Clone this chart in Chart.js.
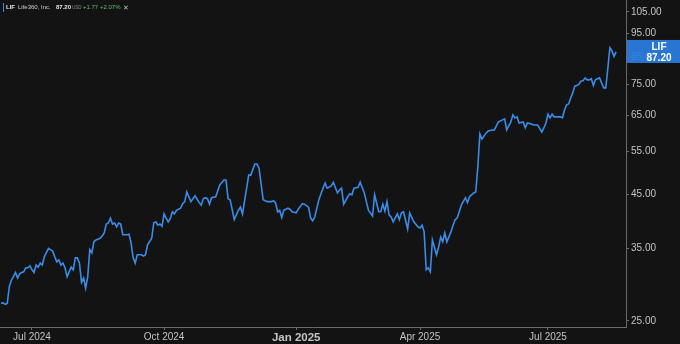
<!DOCTYPE html>
<html>
<head>
<meta charset="utf-8">
<script src="https://cdn.jsdelivr.net/npm/chart.js@4.4.1/dist/chart.umd.min.js"></script>
<style>
  html, body { margin: 0; padding: 0; background: #131313; }
  #wrap { position: relative; width: 680px; height: 344px; }
  #header { position: absolute; left: 0; top: 2px; height: 11px; font-family: "Liberation Sans", Arial, sans-serif; font-size: 6px; line-height: 11px; white-space: nowrap; }
  #header span { position: absolute; top: 0; }
  #header .bar { left: 3px; top: 1px; width: 1px; height: 9px; background: #3a8ce8; }
</style>
</head>
<body>
<div id="wrap">
  <canvas id="chart" width="680" height="344"></canvas>
  <div id="header">
    <span class="bar"></span>
    <span style="left:6px;color:#e6e6e6;font-weight:bold">LIF</span>
    <span style="left:18px;color:#d0d0d0">Life360, Inc.</span>
    <span style="left:56px;color:#e6e6e6;font-weight:bold">87.20</span>
    <span style="left:72px;color:#8a8a8a;font-size:4.5px">USD</span>
    <span style="left:83px;color:#5fbf6a">+1.77</span>
    <span style="left:100px;color:#5fbf6a">+2.07%</span>
    <span style="left:123px;color:#bdbdbd;font-size:7px">✕</span>
  </div>
</div>
<script>
// sessions counted from Jul 1 2024 (trading days)
const sessions = [
  -15, -14, -13, -12, -11, -10, -9, -8, -7, -6, -5, -4, -3, -2, -1, 0, 1, 2, 3, 4, 5, 6, 8, 10, 11, 12, 13, 14, 15, 16, 17, 19, 20,
  21, 22, 23, 24, 25, 26, 27, 28, 29, 30, 31, 33, 34, 35, 36, 37, 38, 39, 40, 41, 42, 43, 44, 46, 47, 48, 49, 50, 51, 53, 54, 55,
  56, 58, 59, 60, 61, 62, 63, 64, 65, 66, 67, 68, 69, 70, 72, 73, 74, 75, 77, 78, 79, 81, 82, 83, 84, 85, 86, 87, 89, 91, 93, 94,
  95, 96, 98, 100, 101, 102, 104, 105, 106, 108, 109, 110, 112, 114, 116, 117, 118, 119, 120, 121, 122, 124, 125, 126, 128, 129,
  131, 132, 134, 135, 136, 137, 139, 141, 142, 143, 145, 146, 148, 149, 150, 151, 153, 154, 155, 156, 158, 159, 161, 163, 165,
  166, 168, 169, 170, 171, 172, 173, 174, 175, 177, 178, 179, 180, 182, 183, 185, 187, 188, 189, 190, 191, 192, 193, 194, 196,
  197, 198, 199, 200, 201, 203, 204, 205, 206, 207, 208, 210, 211, 212, 214, 215, 216, 217, 218, 220, 221, 223, 224, 226, 227,
  229, 230, 232, 233, 234, 235, 236, 238, 239, 240, 242, 243, 245, 247, 248, 249, 250, 251, 252, 253, 255, 256, 257, 258, 259,
  260, 261, 262, 263, 264, 265, 266, 267, 268, 269, 270, 271, 272, 273, 274, 275, 276, 277, 278, 279, 280, 281, 282, 283
];
const prices = [
  27.1, 27.2, 27.0, 27.1, 29.3, 30.2, 30.7, 31.3, 30.5, 31.1, 31.3, 31.4, 32.0, 32.0, 32.3, 31.7, 31.3, 32.4, 32.1, 32.7, 32.4,
  33.7, 35.0, 34.6, 33.7, 32.9, 33.2, 32.4, 32.7, 32.0, 30.7, 32.1, 31.7,
  33.5, 33.5, 32.7, 29.9, 30.5, 29.1, 30.7, 34.8, 34.3, 36.1, 36.4, 36.7, 37.1, 37.6, 39.2, 39.4, 40.3, 39.2, 39.4, 38.7, 39.4,
  39.2, 37.3, 37.3, 37.4, 35.9, 33.5, 32.7, 34.0, 34.0, 33.8, 34.0,
  35.6, 36.7, 39.4, 39.6, 39.0, 39.2, 38.8, 41.1, 40.3, 39.6, 40.2, 41.5, 41.1, 41.8, 42.2, 43.1, 43.5, 45.5, 43.5, 44.1, 44.7,
  43.3, 42.8, 44.1, 44.3, 44.1, 43.0, 44.3, 44.5, 47.0, 48.1, 48.1,
  44.1, 43.9, 40.0, 41.8, 42.4, 41.1, 46.3, 49.2, 49.2, 51.8, 51.8, 50.8, 43.9, 43.5, 43.5, 43.7, 43.3, 41.5, 41.8, 40.4, 41.8,
  42.2, 42.0, 41.5, 41.3, 42.0,
  43.1, 43.0, 42.4, 40.3, 39.8, 40.5, 43.9, 46.3, 47.4, 46.3, 46.8, 47.6, 45.3, 45.9, 46.3, 43.0, 44.5, 45.1, 44.9, 46.3, 46.5,
  47.6, 45.3, 41.8, 40.7,
  44.9, 41.5, 41.5, 43.0, 41.6, 43.5, 40.9, 40.5, 39.6, 41.1, 40.0, 41.3, 41.5, 38.3, 41.3, 39.6, 38.7, 38.5, 39.0, 37.8, 31.7,
  32.0, 31.4, 36.4, 34.0,
  35.2, 36.9, 36.1, 37.6, 36.1, 37.8, 39.0, 40.0, 40.3, 41.5, 42.8, 44.3, 43.3, 44.5, 45.3, 45.5, 51.0, 59.6, 58.2, 59.8, 60.4,
  60.7, 60.7, 63.0, 63.3,
  63.9, 60.7, 63.0, 65.1, 64.2, 64.5, 62.7, 63.0, 61.3, 62.7, 62.4, 62.1, 62.1, 60.1, 61.3, 62.7, 65.3, 64.2, 65.3, 64.5, 64.5,
  64.5, 64.2, 66.6, 68.2,
  68.5, 70.4, 72.1, 74.4, 74.6, 75.1, 76.2, 76.3, 77.3, 76.6, 76.6, 77.0, 74.6, 76.6, 77.0, 77.3, 75.5, 73.8, 73.8, 80.9, 88.9,
  87.6, 85.43, 87.20
];

const xTickSessions = [0, 64, 128, 188, 250];
const xTickLabels = ['Jul 2024', 'Oct 2024', 'Jan 2025', 'Apr 2025', 'Jul 2025'];
const yTicks = [25, 35, 45, 55, 65, 75, 85, 95, 105];

const symbol = 'LIF';
const lastPrice = 87.20;

const lineBlue = '#3a8ce8';
const axisGray = '#6a6a6a';
const textGray = '#c4c4c4';
const fontFamily = '"Liberation Sans", Arial, sans-serif';

const points = sessions.map((s, i) => ({ x: s, y: prices[i] }));

const lastLabel = {
  id: 'lastLabel',
  afterDraw(chart) {
    const ctx = chart.ctx;
    const y = chart.scales.y.getPixelForValue(lastPrice);
    const left = chart.chartArea.right + 1;
    ctx.save();
    ctx.fillStyle = 'rgba(42, 126, 224, 0.93)';
    ctx.fillRect(left, y - 12, chart.width - left, 23);
    ctx.fillStyle = '#ffffff';
    ctx.font = 'bold 10px ' + fontFamily;
    ctx.textAlign = 'center';
    ctx.textBaseline = 'middle';
    ctx.fillText(symbol, 659, y - 5);
    ctx.fillText(lastPrice.toFixed(2), 659, y + 6);
    ctx.restore();
  }
};

new Chart(document.getElementById('chart'), {
  type: 'line',
  data: {
    datasets: [{
      label: symbol,
      data: points,
      borderColor: lineBlue,
      borderWidth: 1.6,
      pointRadius: 0,
      tension: 0,
      fill: false
    }]
  },
  options: {
    responsive: false,
    animation: false,
    layout: { padding: 0 },
    plugins: {
      legend: { display: false },
      tooltip: { enabled: false }
    },
    scales: {
      x: {
        type: 'linear',
        min: -15.5,
        max: 287.8,
        afterBuildTicks: (scale) => {
          scale.ticks = xTickSessions.map(v => ({ value: v }));
        },
        afterFit: (scale) => {
          scale.height = 17;
          scale.paddingLeft = 0;
          scale.paddingRight = 0;
        },
        grid: {
          drawOnChartArea: false,
          drawTicks: true,
          tickLength: 3,
          tickColor: axisGray
        },
        border: { display: true, color: axisGray, width: 1 },
        ticks: {
          padding: 1,
          maxRotation: 0,
          autoSkip: false,
          color: textGray,
          font: (c) => (c.tick && c.tick.value === 128)
            ? { family: fontFamily, size: 11.5, weight: 'bold' }
            : { family: fontFamily, size: 10 },
          callback: (v) => xTickLabels[xTickSessions.indexOf(v)] || ''
        }
      },
      y: {
        type: 'logarithmic',
        position: 'right',
        min: 24.3,
        max: 111,
        afterBuildTicks: (scale) => {
          scale.ticks = yTicks.map(v => ({ value: v }));
        },
        // plot area runs to the top edge, no room kept for the top label
        afterFit: (scale) => {
          scale.width = 54;
          scale.paddingTop = 0;
          scale.paddingBottom = 0;
        },
        grid: {
          drawOnChartArea: false,
          drawTicks: true,
          tickLength: 3,
          tickColor: axisGray
        },
        border: { display: true, color: axisGray, width: 1 },
        ticks: {
          padding: 2,
          color: textGray,
          font: { family: fontFamily, size: 10 },
          callback: (v) => Number(v).toFixed(2)
        }
      }
    }
  },
  plugins: [lastLabel]
});
</script>
</body>
</html>
